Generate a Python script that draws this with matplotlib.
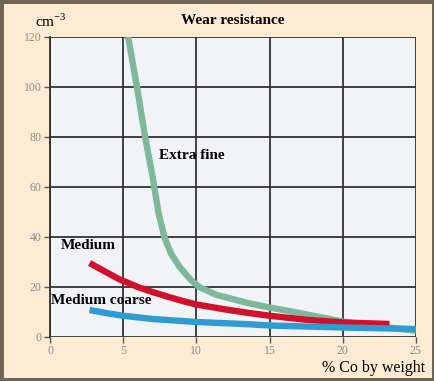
import numpy as np
import matplotlib
matplotlib.use('Agg')
import matplotlib.pyplot as plt
from matplotlib.patches import Rectangle

# Data (x = % Co by weight, y = wear resistance cm-3)
extra_fine_x = [5.34, 5.94, 6.5, 7.05, 7.12, 7.42, 7.81, 8.26, 8.84, 9.63, 10.2, 11.35, 12.26, 13.5, 15.0, 16.5, 18.0, 20.0, 22.5, 25.0]
extra_fine_y = [120, 100, 80, 62.8, 60, 49.5, 40, 33.5, 28.1, 22.8, 20.0, 16.9, 15.5, 13.6, 11.8, 10.2, 8.5, 6.2, 4.2, 2.5]

medium_x = [2.7, 3.5, 4.7, 6.0, 7.0, 8.0, 9.0, 10.0, 12.0, 13.6, 15.0, 17.5, 20.0, 23.2]
medium_y = [29.6, 27.0, 23.2, 20.0, 18.0, 16.2, 14.5, 13.0, 11.0, 9.6, 8.5, 6.9, 5.8, 5.2]

coarse_x = [2.7, 4.0, 5.0, 7.0, 10.0, 13.6, 15.0, 20.0, 25.0]
coarse_y = [10.8, 9.4, 8.5, 7.2, 6.0, 5.1, 4.6, 3.8, 3.2]

x_ticks = [0, 5, 10, 15, 20, 25]
y_ticks = [0, 20, 40, 60, 80, 100, 120]

serif = ['Liberation Serif', 'DejaVu Serif']

fig = plt.figure(figsize=(4.35, 3.81), dpi=100, facecolor='#fdebd3')
ax = fig.add_axes([0.115, 0.1155, 0.841, 0.7875])
ax.set_facecolor('#f1f3f6')

style = dict(lw=4.6, solid_capstyle='butt', solid_joinstyle='round')
ax.plot(extra_fine_x, extra_fine_y, color='#7db89b', zorder=3, **style)
ax.plot(medium_x, medium_y, color='#d2102b', zorder=4, **style)
ax.plot(coarse_x, coarse_y, color='#2e9bd3', zorder=5, **style)

ax.set_xlim(0, 25)
ax.set_ylim(0, 120)
ax.set_xticks(x_ticks)
ax.set_yticks(y_ticks)
ax.grid(True, color='#333333', lw=1.3, zorder=1)
ax.set_axisbelow(True)
for s in ax.spines.values():
    s.set_visible(False)
ax.spines['left'].set_visible(True)
ax.spines['left'].set_color('#333333')
ax.spines['left'].set_linewidth(1.3)
ax.tick_params(length=4, width=1, color='#555555', labelcolor='#8a8a8a', labelsize=8.5, pad=2)
for lab in ax.get_xticklabels() + ax.get_yticklabels():
    lab.set_family(serif)

ax.text(7.45, 71, 'Extra fine', family=serif, fontweight='bold', fontsize=11, zorder=6)
ax.text(0.75, 35, 'Medium', family=serif, fontweight='bold', fontsize=11, zorder=6)
ax.text(0.05, 13, 'Medium coarse', family=serif, fontweight='bold', fontsize=11, zorder=6)

fig.text(0.534, 0.945, 'Wear resistance', family=serif, fontweight='bold', fontsize=11, ha='center', va='center')
fig.text(0.08, 0.945, 'cm$^{\\mathregular{-3}}$', family=serif, fontsize=11, va='center')
fig.text(0.977, 0.035, '% Co by weight', family=serif, fontsize=11.5, ha='right', va='center')

fig.patches.append(Rectangle((0, 0), 1, 1, transform=fig.transFigure, fill=False,
                             edgecolor='#6e6558', lw=5))

fig.savefig('out.png', dpi=100, facecolor=fig.get_facecolor())
